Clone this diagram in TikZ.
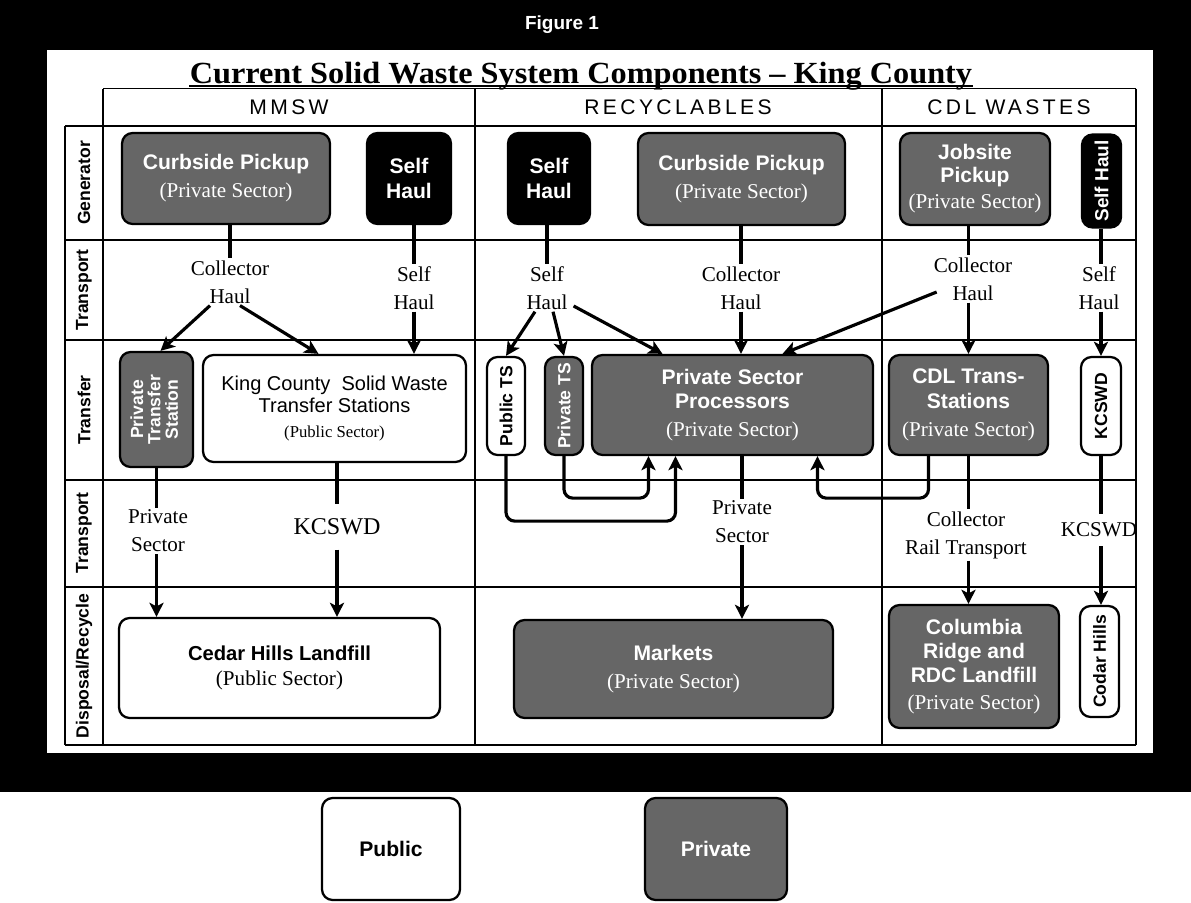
\documentclass[tikz,border=0pt]{standalone}
\usepackage{graphicx}
\usepackage{fontspec}
\setmainfont{Liberation Serif}
\setsansfont{Liberation Sans}
\newfontfamily\hdrfont[LetterSpace=16]{Liberation Sans}
\usetikzlibrary{arrows.meta,positioning,calc}

\newcommand{\sectortag}[1]{\\[2pt]{\rmfamily\mdseries\fontsize{12}{14}\selectfont(#1 Sector)}}

\begin{document}
\begin{tikzpicture}[
  x=0.02cm, y=-0.02cm,
  gridline/.style={line width=0.6pt},
  pub/.style={draw, line width=1.3pt, rounded corners=6pt, fill=white, inner sep=0pt, align=center, font=\sffamily\bfseries\fontsize{12}{14}\selectfont},
  priv/.style={pub, fill=black!60, text=white},
  selfbox/.style={pub, fill=black, text=white},
  vbox/.style={font=\sffamily\bfseries\fontsize{10}{12}\selectfont},
  lbl/.style={font=\rmfamily\fontsize{12}{16}\selectfont, align=center, inner sep=1pt},
  rowlbl/.style={font=\sffamily\bfseries\fontsize{10}{12}\selectfont},
  hdr/.style={font=\hdrfont\fontsize{12}{14}\selectfont},
  ln/.style={line width=1.8pt},
  arr/.style={-{Stealth[length=8pt,width=8pt,inset=2pt]}, line width=1.8pt}
]
\useasboundingbox (0,0) rectangle (1191,903);
\fill[black] (0,0) rectangle (1191,792);
\fill[white] (47,50) rectangle (1153,753);

\node[font=\sffamily\bfseries\fontsize{10.8}{12}\selectfont, text=white] (fig) at (562,25) {Figure 1};
\node[anchor=base, inner sep=0pt, font=\rmfamily\bfseries\fontsize{17.5}{20}\selectfont] (title) at (581,83.5) {\scalebox{1.05}[1]{Current Solid Waste System Components \textendash{} King County}};
\draw[line width=1pt] ($(title.base west)+(0,2.5)$) -- ($(title.base east)+(0,2.5)$);

\draw[gridline] (103,88.5) -- (1136,88.5);
\foreach \yy in {126,240,340,480,587,745} \draw[gridline] (65,\yy) -- (1136,\yy);
\draw[gridline] (65,126) -- (65,745);
\foreach \xx in {103,475,882,1136} \draw[gridline] (\xx,88.5) -- (\xx,745);

\node[hdr] (hmmsw) at (289,107) {MMSW};
\node[hdr] (hrec) at (678,107) {RECYCLABLES};
\node[hdr] (hcdl) at (1009,107) {CDL WASTES};

\node[rowlbl] (rgen) at (84,183) {\rotatebox{90}{Generator}};
\node[rowlbl] (rtr1) at (84,290) {\rotatebox{90}{Transport}};
\node[rowlbl] (rtrf) at (84,410) {\rotatebox{90}{Transfer}};
\node[rowlbl] (rtr2) at (84,533) {\rotatebox{90}{Transport}};
\node[rowlbl] (rdis) at (84,666) {\rotatebox{90}{Disposal/Recycle}};

\node[priv, minimum width=4.16cm, minimum height=1.82cm] (cpm) at (226,178.5) {Curbside Pickup\sectortag{Private}};
\node[selfbox, minimum width=1.68cm, minimum height=1.82cm] (shm) at (409,178.5) {Self\\Haul};
\node[selfbox, minimum width=1.64cm, minimum height=1.82cm] (shr) at (549,178.5) {Self\\Haul};
\node[priv, minimum width=4.14cm, minimum height=1.84cm] (cpr) at (741.5,179) {Curbside Pickup\sectortag{Private}};
\node[priv, minimum width=3cm, minimum height=1.84cm, font=\sffamily\bfseries\fontsize{12}{13}\selectfont] (jsp) at (975,179) {Jobsite\\Pickup\sectortag{Private}};
\node[selfbox, minimum width=0.78cm, minimum height=1.86cm, font=\sffamily\bfseries\fontsize{10.8}{12}\selectfont] (shc) at (1101.5,181) {\rotatebox{90}{Self Haul}};

\node[priv, minimum width=1.46cm, minimum height=2.3cm, font=\sffamily\bfseries\fontsize{10}{9}\selectfont] (pts) at (156.5,409.5) {\rotatebox{90}{\begin{tabular}{@{}c@{}}Private\\Transfer\\Station\end{tabular}}};
\node[pub, minimum width=5.26cm, minimum height=2.14cm, font=\sffamily\mdseries\fontsize{11.4}{12.5}\selectfont] (kcts) at (334.5,408.5) {King County\ \ Solid Waste\\Transfer Stations\\[1.5pt]{\rmfamily\fontsize{9.5}{11}\selectfont(Public Sector)}};
\node[pub, vbox, minimum width=0.76cm, minimum height=1.96cm] (pubts) at (506,406) {\rotatebox{90}{Public TS}};
\node[priv, vbox, minimum width=0.76cm, minimum height=1.96cm] (privts) at (564,406) {\rotatebox{90}{Private TS}};
\node[priv, minimum width=5.62cm, minimum height=2cm] (psp) at (732.5,405) {Private Sector\\Processors\sectortag{Private}};
\node[priv, minimum width=3.18cm, minimum height=2cm] (cdlts) at (968.5,405) {CDL Trans-\\Stations\sectortag{Private}};
\node[pub, vbox, minimum width=0.8cm, minimum height=1.96cm] (kcswd) at (1101,406) {\rotatebox{90}{KCSWD}};

\node[pub, minimum width=6.42cm, minimum height=2cm, font=\sffamily\bfseries\fontsize{11.5}{14}\selectfont] (chl) at (279.5,668) {Cedar Hills Landfill\\{\rmfamily\mdseries\fontsize{12}{14}\selectfont(Public Sector)}};
\node[priv, minimum width=6.38cm, minimum height=1.96cm] (mkt) at (673.5,669) {Markets\sectortag{Private}};
\node[priv, minimum width=3.4cm, minimum height=2.46cm, font=\sffamily\bfseries\fontsize{12}{13.5}\selectfont] (crl) at (974,666.5) {Columbia\\Ridge and\\RDC Landfill\sectortag{Private}};
\node[pub, vbox, minimum width=0.78cm, minimum height=2.22cm] (codar) at (1099.5,661.5) {\rotatebox{90}{Codar Hills}};

\node[pub, minimum width=2.76cm, minimum height=2.04cm] (legpub) at (391,849) {Public};
\node[priv, minimum width=2.84cm, minimum height=2.04cm] (legpriv) at (716,849) {Private};

\node[lbl] (lch1) at (230,282) {Collector\\Haul};
\node[lbl] (lsh1) at (414,288) {Self\\Haul};
\node[lbl] (lsh2) at (547,288) {Self\\Haul};
\node[lbl] (lch2) at (741,288) {Collector\\Haul};
\node[lbl] (lch3) at (973,279) {Collector\\Haul};
\node[lbl] (lsh3) at (1099,288) {Self\\Haul};
\node[lbl] (lps1) at (158,531) {Private\\Sector};
\node[lbl, font=\rmfamily\fontsize{13.7}{16}\selectfont, inner ysep=8pt] (lkc1) at (337,527) {KCSWD};
\node[lbl] (lps2) at (742,522) {Private\\Sector};
\node[lbl] (lcrt) at (966,535) {Collector\\Rail Transport};
\node[lbl, inner ysep=5pt] (lkc2) at (1099,530) {KCSWD};

\draw[ln] (lch1.north |- cpm.south) -- (lch1.north);
\draw[ln] (lsh1.north |- shm.south) -- (lsh1.north);
\draw[ln] (lsh2.north |- shr.south) -- (lsh2.north);
\draw[ln] (lch2.north |- cpr.south) -- (lch2.north);
\draw[ln] (cdlts.north |- jsp.south) -- (cdlts.north |- lch3.north);
\draw[ln] (kcswd.north |- shc.south) -- (kcswd.north |- lsh3.north);

\draw[arr] ($(lch1.south)+(-20,0)$) -- ($(pts.north)+(4,0)$);
\draw[arr] ($(lch1.south)+(10,0)$) -- ($(kcts.north)+(-16,0)$);
\draw[arr] (lsh1.south) -- (lsh1.south |- kcts.north);
\draw[arr] ($(lsh2.south)+(-12,0)$) -- (pubts.north);
\draw[arr] ($(lsh2.south)+(6,0)$) -- (privts.north);
\draw[arr] ($(lsh2.east)+(4,18)$) -- ($(psp.north)+(-70,0)$);
\draw[arr] (lch2.south) -- (lch2.south |- psp.north);
\draw[arr] ($(lch3.west)+(5,13)$) -- ($(psp.north)+(50,0)$);
\draw[arr] (cdlts.north |- lch3.south) -- (cdlts.north);
\draw[arr] (kcswd.north |- lsh3.south) -- (kcswd.north);

\draw[ln] (pts.south) -- (pts.south |- lps1.north);
\draw[arr] (pts.south |- lps1.south) -- (pts.south |- chl.north);
\draw[ln] (lkc1.north |- kcts.south) -- (lkc1.north);
\draw[arr] (lkc1.south) -- (lkc1.south |- chl.north);
\draw[ln] (lps2.north |- psp.south) -- (lps2.north);
\draw[arr] (lps2.south) -- (lps2.south |- mkt.north);
\draw[ln] (cdlts.south) -- (cdlts.south |- lcrt.north);
\draw[arr] (cdlts.south |- lcrt.south) -- (cdlts.south |- crl.north);
\draw[ln] (kcswd.south) -- (kcswd.south |- lkc2.north);
\draw[arr] (kcswd.south |- lkc2.south) -- (kcswd.south |- codar.north);

\draw[arr, rounded corners=5pt] (pubts.south) -- ++(0,65) -| ($(psp.south)+(-57,0)$);
\draw[arr, rounded corners=5pt] (privts.south) -- ++(0,42) -| ($(psp.south)+(-84,0)$);
\draw[arr, rounded corners=5pt] ($(cdlts.south)+(-40,0)$) -- ++(0,42) -| ($(psp.south)+(85,0)$);

\end{tikzpicture}
\end{document}
